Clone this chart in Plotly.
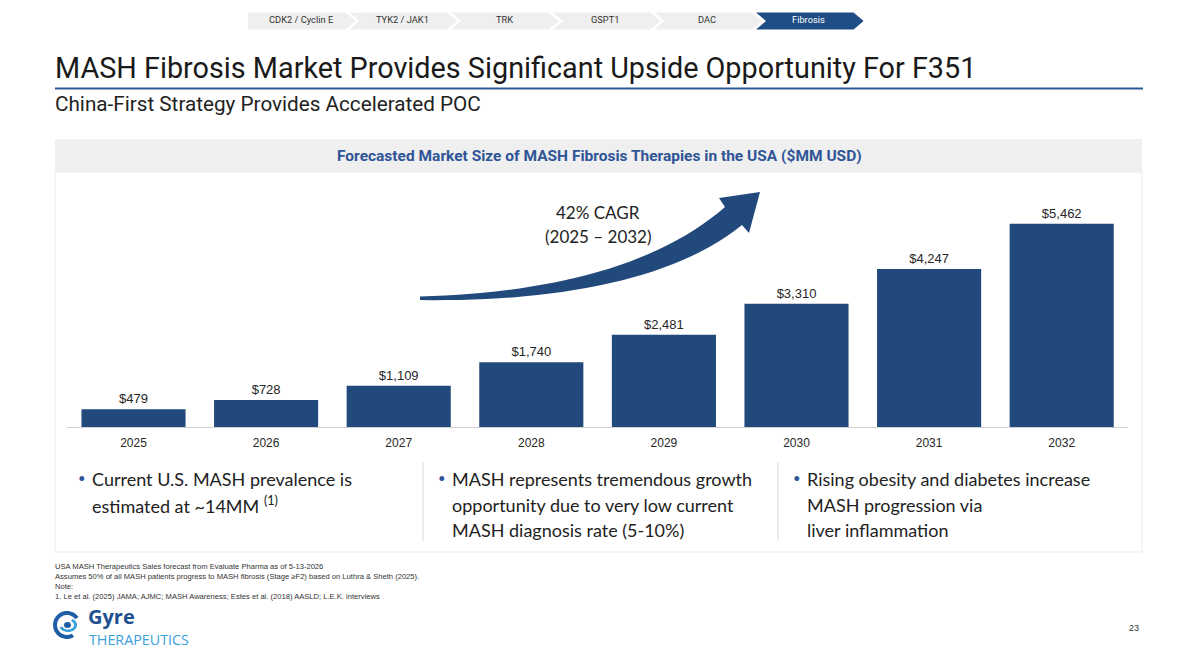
import numpy as np
import plotly.graph_objects as go

W, H = 1196, 672

# ---------------- data ----------------
years = ["2025", "2026", "2027", "2028", "2029", "2030", "2031", "2032"]
market_mm = [479, 728, 1109, 1740, 2481, 3310, 4247, 5462]

nav_items = ["CDK2 / Cyclin E", "TYK2 / JAK1", "TRK", "GSPT1", "DAC", "Fibrosis"]
active_nav = "Fibrosis"

title_text = "MASH Fibrosis Market Provides Significant Upside Opportunity For F351"
subtitle_text = "China-First Strategy Provides Accelerated POC"
chart_header = "Forecasted Market Size of MASH Fibrosis Therapies in the USA ($MM USD)"
cagr_lines = ["42% CAGR", "(2025 \u2013 2032)"]

bullets = [
    ["Current U.S. MASH prevalence is", "estimated at ~14MM <sup>(1)</sup>"],
    ["MASH represents tremendous growth", "opportunity due to very low current", "MASH diagnosis rate (5-10%)"],
    ["Rising obesity and diabetes increase", "MASH progression via", "liver inflammation"],
]

footnotes = [
    "USA MASH Therapeutics Sales forecast from Evaluate Pharma as of 5-13-2026",
    "Assumes 50% of all MASH patients progress to MASH fibrosis (Stage \u2265F2) based on Luthra & Sheth (2025).",
    "Note:",
    "1. Le et al. (2025) JAMA; AJMC; MASH Awareness; Estes et al. (2018) AASLD; L.E.K. interviews",
]
page_number = "23"

# ---------------- style ----------------
BAR = "#22497C"
NAVY = "#2F5597"


def px(x):
    return x / W


def py(y):
    return 1 - y / H


def path_from(points, close=True):
    s = "M " + " L ".join(f"{px(x):.5f},{py(y):.5f}" for x, y in points)
    return s + (" Z" if close else "")


def bez(p0, p1, p2, p3, n=30):
    t = np.linspace(0, 1, n)[:, None]
    p0, p1, p2, p3 = map(np.array, (p0, p1, p2, p3))
    pts = (1 - t) ** 3 * p0 + 3 * (1 - t) ** 2 * t * p1 + 3 * (1 - t) * t ** 2 * p2 + t ** 3 * p3
    return [tuple(p) for p in pts]


fig = go.Figure()

# plot area geometry (pixels)
x_left, x_right = 67.2, 1128.0
y_base, y_top = 427.0, 190.0
px_per_unit = 0.0372
y_max = (y_base - y_top) / px_per_unit

fig.add_trace(go.Bar(
    x=years, y=market_mm,
    marker=dict(color=BAR, line=dict(width=0)),
    texttemplate="$%{y:,}", textposition="outside",
    textfont=dict(family="Liberation Sans, Arial", size=13, color="#262626"),
    cliponaxis=False, hoverinfo="skip",
))

shapes = []
annotations = []

# ---- nav chevrons ----
nav_x0, pitch, tip = 248.0, 101.6, 10.0
ny0, ny1 = 12.5, 29.5
nmid = (ny0 + ny1) / 2
for i, name in enumerate(nav_items):
    x0 = nav_x0 + i * pitch
    x1 = x0 + pitch - 4
    pts = [(x0, ny0), (x1, ny0), (x1 + tip, nmid), (x1, ny1), (x0, ny1)]
    if i > 0:
        pts.append((x0 + tip, nmid))
    active = name == active_nav
    shapes.append(dict(type="path", path=path_from(pts), xref="paper", yref="paper",
                       fillcolor=("#1F4E86" if active else "#EFEFEF"), line=dict(width=0), layer="below"))
    annotations.append(dict(x=px(x0 + pitch / 2 + 2), y=py(nmid - 1.5), xref="paper", yref="paper",
                            text=name, showarrow=False, xanchor="center", yanchor="middle",
                            font=dict(family="Roboto", size=9.3, color=("white" if active else "#333333"))))

# ---- title, rule, subtitle ----
annotations.append(dict(x=px(53), y=py(68), xref="paper", yref="paper", text=title_text,
                        showarrow=False, xanchor="left", yanchor="middle",
                        font=dict(family="Roboto", size=28.8, color="#1A1A1A")))
shapes.append(dict(type="line", xref="paper", yref="paper", x0=px(55), x1=px(1143), y0=py(88.5), y1=py(88.5),
                   line=dict(color="#2E5A9A", width=2)))
annotations.append(dict(x=px(53), y=py(104), xref="paper", yref="paper", text=subtitle_text,
                        showarrow=False, xanchor="left", yanchor="middle",
                        font=dict(family="Roboto", size=20.7, color="#222222")))

# ---- chart panel ----
shapes.append(dict(type="rect", xref="paper", yref="paper", x0=px(55), x1=px(1142), y0=py(552), y1=py(172),
                   fillcolor="white", line=dict(color="#ECECEC", width=1), layer="below"))
shapes.append(dict(type="rect", xref="paper", yref="paper", x0=px(55), x1=px(1142), y0=py(172), y1=py(139),
                   fillcolor="#EFEFEF", line=dict(width=0), layer="below"))
annotations.append(dict(x=px(599), y=py(156), xref="paper", yref="paper", text="<b>" + chart_header + "</b>",
                        showarrow=False, xanchor="center", yanchor="middle",
                        font=dict(family="Roboto", size=15.5, color=NAVY)))

# ---- growth arrow ----
upper = bez((420, 296.5), (545, 293), (655, 268), (725, 207))
lower = bez((742, 225), (672, 282), (550, 302), (420, 300))
arrow_pts = upper + [(719, 198), (760, 192), (749, 233)] + lower
shapes.append(dict(type="path", path=path_from(arrow_pts), xref="paper", yref="paper",
                   fillcolor="#22497C", line=dict(width=0)))
for k, line in enumerate(cagr_lines):
    annotations.append(dict(x=px(598), y=py(212 + 25 * k), xref="paper", yref="paper", text=line,
                            showarrow=False, xanchor="center", yanchor="middle",
                            font=dict(family="Lato", size=17, color="#222222")))

# ---- bullets ----
col_x = [77, 437, 792]
for c, lines in enumerate(bullets):
    bx = col_x[c]
    annotations.append(dict(x=px(bx - 1), y=py(478), xref="paper", yref="paper", text="\u2022",
                            showarrow=False, xanchor="left", yanchor="middle",
                            font=dict(family="Lato", size=13, color=NAVY)))
    for k, line in enumerate(lines):
        annotations.append(dict(x=px(bx + 13), y=py(479 + 25.5 * k), xref="paper", yref="paper", text=line,
                                showarrow=False, xanchor="left", yanchor="middle",
                                font=dict(family="Lato", size=18, color="#222222")))
for sx in (423, 778):
    shapes.append(dict(type="line", xref="paper", yref="paper", x0=px(sx), x1=px(sx), y0=py(462), y1=py(541),
                       line=dict(color="#D9D9D9", width=1)))

# ---- footnotes ----
for k, line in enumerate(footnotes):
    annotations.append(dict(x=px(53), y=py(566 + 10.3 * k), xref="paper", yref="paper", text=line,
                            showarrow=False, xanchor="left", yanchor="middle",
                            font=dict(family="Liberation Sans, Arial", size=7.6, color="#333333")))

# ---- logo ----
cx, cy = 67, 625
ang = np.radians(np.linspace(35, 300, 40))
r_o, r_i = 14, 10
outer = [(cx + r_o * np.cos(a), cy - r_o * np.sin(a)) for a in ang] + \
        [(cx + r_i * np.cos(a), cy - r_i * np.sin(a)) for a in ang[::-1]]
shapes.append(dict(type="path", path=path_from(outer), xref="paper", yref="paper",
                   fillcolor="#1F5FA8", line=dict(width=0)))
ang2 = np.radians(np.linspace(200, 420, 40))
inner = [(cx + 1 + 9 * np.cos(a), cy - 7 * np.sin(a)) for a in ang2] + \
        [(cx + 1 + 6 * np.cos(a), cy - 4.5 * np.sin(a)) for a in ang2[::-1]]
shapes.append(dict(type="path", path=path_from(inner), xref="paper", yref="paper",
                   fillcolor="#3AA0DC", line=dict(width=0)))
shapes.append(dict(type="circle", xref="paper", yref="paper", x0=px(cx - 3), x1=px(cx + 4), y0=py(cy + 3),
                   y1=py(cy - 3), fillcolor="#1F5FA8", line=dict(width=0)))
annotations.append(dict(x=px(86), y=py(616.5), xref="paper", yref="paper", text="<b>Gyre</b>",
                        showarrow=False, xanchor="left", yanchor="middle",
                        font=dict(family="Open Sans", size=20, color="#1F4F8F")))
annotations.append(dict(x=px(87), y=py(639.5), xref="paper", yref="paper", text="THERAPEUTICS",
                        showarrow=False, xanchor="left", yanchor="middle",
                        font=dict(family="Open Sans", size=14.3, color="#3AA0DC")))
annotations.append(dict(x=px(1141), y=py(628), xref="paper", yref="paper", text=page_number,
                        showarrow=False, xanchor="right", yanchor="middle",
                        font=dict(family="Liberation Sans, Arial", size=9, color="#333333")))

fig.update_layout(
    width=W, height=H, autosize=False,
    margin=dict(l=0, r=0, t=0, b=0),
    paper_bgcolor="white", plot_bgcolor="rgba(0,0,0,0)",
    showlegend=False, bargap=0.215,
    shapes=shapes, annotations=annotations,
    xaxis=dict(domain=[px(x_left), px(x_right)], showgrid=False, zeroline=False,
               showline=True, linecolor="#D0D0D0", linewidth=1, ticks="",
               ticklabelstandoff=5,
               tickfont=dict(family="Liberation Sans, Arial", size=12, color="#262626"),
               fixedrange=True),
    yaxis=dict(domain=[py(y_base), py(y_top)], range=[0, y_max], visible=False, fixedrange=True),
)

fig.write_html("out.html", config={"displayModeBar": False},
               post_script="document.body.style.margin='0px';document.body.style.overflow='hidden';")
